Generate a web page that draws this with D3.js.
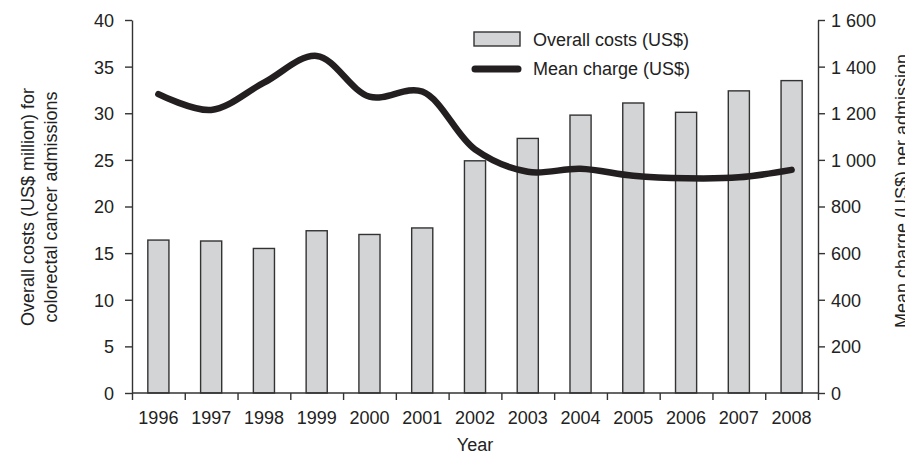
<!DOCTYPE html>
<html>
<head>
<meta charset="utf-8">
<script src="https://cdn.jsdelivr.net/npm/d3@7"></script>
<style>
  body { margin: 0; background: #fff; }
  svg text { font-family: "Liberation Sans", Arial, sans-serif; fill: #222; }
</style>
</head>
<body>
<div id="chart"></div>
<script>
// Data
const years = ['1996', '1997', '1998', '1999', '2000', '2001', '2002', '2003', '2004', '2005', '2006', '2007', '2008'];
const overallCosts = [16.4, 16.3, 15.5, 17.4, 17.0, 17.7, 24.9, 27.3, 29.8, 31.1, 30.1, 32.4, 33.5];
const meanCharge = [1282, 1214, 1331, 1446, 1271, 1293, 1045, 949, 962, 932, 921, 925, 957];
const leftTicks = [0, 5, 10, 15, 20, 25, 30, 35, 40];
const rightTicks = [0, 200, 400, 600, 800, 1000, 1200, 1400, 1600];

const width = 905, height = 457;
const margin = { top: 20, right: 87, bottom: 64, left: 132 };
const innerW = width - margin.left - margin.right;
const innerH = height - margin.top - margin.bottom;
const axisColor = '#333';

const svg = d3.select('#chart').append('svg')
  .attr('width', width)
  .attr('height', height);

const g = svg.append('g').attr('transform', `translate(${margin.left},${margin.top})`);

const x = d3.scaleBand().domain(years).range([0, innerW]).paddingInner(0.6).paddingOuter(0.3);
const xEdge = d3.scaleLinear().domain([0, years.length]).range([0, innerW]);
const yLeft = d3.scaleLinear().domain([0, 40]).range([innerH, 0]);
const yRight = d3.scaleLinear().domain([0, 1600]).range([innerH, 0]);

const locale = d3.formatLocale({ decimal: '.', thousands: ' ', grouping: [3], currency: ['$', ''] });
const fmtRight = locale.format(',d');

// Bars
g.append('g')
  .selectAll('rect')
  .data(years)
  .enter().append('rect')
  .attr('x', d => x(d))
  .attr('y', (d, i) => yLeft(overallCosts[i]))
  .attr('width', x.bandwidth())
  .attr('height', (d, i) => innerH - yLeft(overallCosts[i]))
  .attr('fill', '#d3d4d6')
  .attr('stroke', axisColor)
  .attr('stroke-width', 1.4);

// Line
const line = d3.line()
  .x((d, i) => x(years[i]) + x.bandwidth() / 2)
  .y(d => yRight(d))
  .curve(d3.curveCatmullRom.alpha(0.5));

g.append('path')
  .datum(meanCharge)
  .attr('d', line)
  .attr('fill', 'none')
  .attr('stroke', '#231f20')
  .attr('stroke-width', 6.5)
  .attr('stroke-linecap', 'round')
  .attr('stroke-linejoin', 'round');

// Axes
function styleAxis(sel) {
  sel.selectAll('path, line').attr('stroke', axisColor).attr('stroke-width', 1.4);
  sel.selectAll('text').attr('font-size', 18).attr('fill', '#222')
    .attr('font-family', '"Liberation Sans", Arial, sans-serif');
}

const leftAxis = g.append('g')
  .call(d3.axisLeft(yLeft).tickValues(leftTicks).tickSize(7).tickSizeOuter(0).tickPadding(11));
styleAxis(leftAxis);
leftAxis.selectAll('text').attr('dy', '0.36em');

const rightAxis = g.append('g')
  .attr('transform', `translate(${innerW},0)`)
  .call(d3.axisRight(yRight).tickValues(rightTicks).tickFormat(fmtRight).tickSize(7).tickSizeOuter(0).tickPadding(6));
styleAxis(rightAxis);
rightAxis.selectAll('text').attr('dy', '0.36em');

const bottomAxis = g.append('g')
  .attr('transform', `translate(0,${innerH})`)
  .call(d3.axisBottom(xEdge).tickValues(d3.range(years.length + 1)).tickFormat('').tickSize(7).tickSizeOuter(0));
styleAxis(bottomAxis);
bottomAxis.select('.domain').remove();
bottomAxis.append('line')
  .attr('x1', 0).attr('x2', innerW)
  .attr('stroke', axisColor).attr('stroke-width', 1.4);

// Year labels
g.append('g')
  .selectAll('text')
  .data(years)
  .enter().append('text')
  .attr('x', d => x(d) + x.bandwidth() / 2)
  .attr('y', innerH + 31)
  .attr('text-anchor', 'middle')
  .attr('font-size', 18)
  .text(d => d);

// Axis titles
svg.append('text')
  .attr('x', 475).attr('y', 451)
  .attr('text-anchor', 'middle')
  .attr('font-size', 18)
  .text('Year');

const leftTitle = svg.append('text')
  .attr('transform', 'translate(0,207) rotate(-90)')
  .attr('text-anchor', 'middle')
  .attr('font-size', 18);
leftTitle.append('tspan').attr('x', 0).attr('y', 34).text('Overall costs (US$ million) for');
leftTitle.append('tspan').attr('x', 0).attr('y', 57).text('colorectal cancer admissions');

// right title runs off the edge in the original as well
svg.append('text')
  .attr('transform', 'translate(908,191) rotate(-90)')
  .attr('text-anchor', 'middle')
  .attr('font-size', 18)
  .text('Mean charge (US$) per admission');

// Legend
const legend = svg.append('g');
legend.append('rect')
  .attr('x', 474).attr('y', 32).attr('width', 46).attr('height', 14)
  .attr('fill', '#d3d4d6').attr('stroke', axisColor).attr('stroke-width', 1.4);
legend.append('text')
  .attr('x', 533).attr('y', 46)
  .attr('font-size', 18)
  .text('Overall costs (US$)');
legend.append('line')
  .attr('x1', 475).attr('x2', 518).attr('y1', 69).attr('y2', 69)
  .attr('stroke', '#231f20').attr('stroke-width', 7).attr('stroke-linecap', 'round');
legend.append('text')
  .attr('x', 533).attr('y', 75)
  .attr('font-size', 18)
  .text('Mean charge (US$)');
</script>
</body>
</html>
